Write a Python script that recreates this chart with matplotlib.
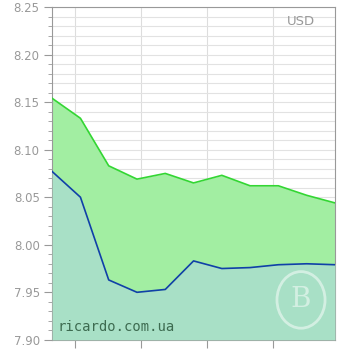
import matplotlib.pyplot as plt
import numpy as np
from matplotlib.patches import Circle

# USD exchange rate, sell / buy
day_index = [0, 1, 2, 3, 4, 5, 6, 7, 8, 9, 10]
sell_rate = [8.154, 8.133, 8.083, 8.069, 8.075, 8.065, 8.073, 8.062, 8.062, 8.052, 8.044]
buy_rate = [8.077, 8.050, 7.963, 7.950, 7.953, 7.983, 7.975, 7.976, 7.979, 7.980, 7.979]
x_ticks = [0.81, 3.14, 5.48, 7.81]
y_ticks = [7.90, 7.95, 8.00, 8.05, 8.10, 8.15, 8.20, 8.25]

fig = plt.figure(figsize=(3.5, 3.5), dpi=100)
ax = fig.add_axes([0.149, 0.029, 0.808, 0.951])

ax.fill_between(day_index, sell_rate, 7.90, color="#a2eea2", lw=0, zorder=2)
ax.fill_between(day_index, buy_rate, 7.90, color="#a8e0c6", lw=0, zorder=3)
ax.plot(day_index, sell_rate, color="#33d633", lw=1.2, zorder=4)
ax.plot(day_index, buy_rate, color="#1040a8", lw=1.2, zorder=4)

ax.set_xlim(0, 10)
ax.set_ylim(7.90, 8.25)
ax.set_xticks(x_ticks)
ax.set_xticklabels([])
ax.set_yticks(y_ticks)
ax.set_yticklabels([f"{v:.2f}" for v in y_ticks])
ax.set_yticks(np.arange(7.90, 8.2501, 0.01), minor=True)

ax.grid(True, which="both", axis="y", color="#e2e2e2", lw=0.8, zorder=0)
ax.grid(True, which="major", axis="x", color="#dddddd", lw=0.8, zorder=0)
ax.set_axisbelow(True)

ax.tick_params(axis="y", which="major", length=6, color="#999999", labelcolor="#999999", labelsize=8.5, pad=3)
ax.tick_params(axis="y", which="minor", length=3, color="#999999")
ax.tick_params(axis="x", which="major", length=6, color="#999999", direction="out")
for side in ["left", "bottom", "top", "right"]:
    ax.spines[side].set_color("#999999")
    ax.spines[side].set_linewidth(0.8)

ax.text(0.93, 0.955, "USD", transform=ax.transAxes, ha="right", va="center",
        color="#999999", fontsize=9.5, zorder=6)
ax.text(0.02, 0.038, "ricardo.com.ua", transform=ax.transAxes, ha="left", va="center",
        color="#3d6b50", fontsize=10, family="DejaVu Sans Mono", zorder=6)

# faint watermark logo
ax.add_patch(Circle((0.88, 0.12), 0.085, transform=ax.transAxes, fill=False,
                    ec="white", lw=2, alpha=0.5, zorder=5))
ax.text(0.88, 0.12, "B", transform=ax.transAxes, ha="center", va="center",
        color="white", alpha=0.5, fontsize=20, family="DejaVu Serif", zorder=5)

fig.savefig("out.png", dpi=100)
